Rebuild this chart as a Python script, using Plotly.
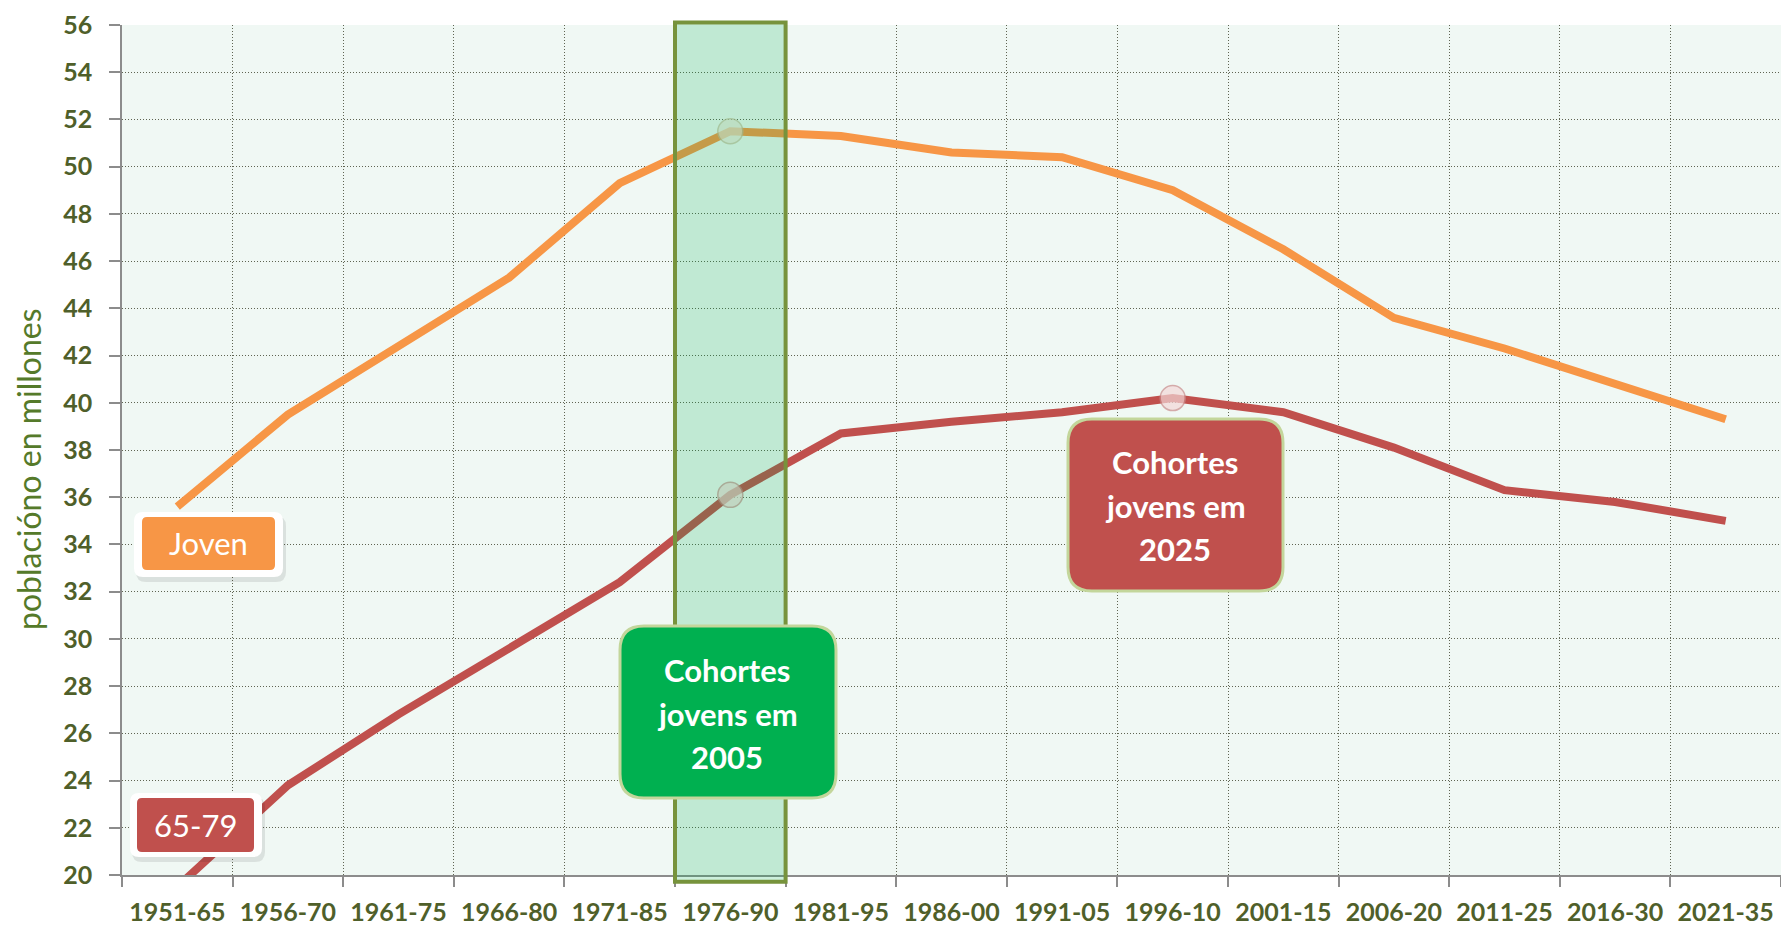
import plotly.graph_objects as go

periodos = ["1951-65", "1956-70", "1961-75", "1966-80", "1971-85", "1976-90", "1981-95",
            "1986-00", "1991-05", "1996-10", "2001-15", "2006-20", "2011-25", "2016-30", "2021-35"]
joven = [35.6, 39.5, 42.4, 45.3, 49.3, 51.5, 51.3, 50.6, 50.4, 49.0, 46.5, 43.6, 42.3, 40.8, 39.3]
mayores = [19.5, 23.8, 26.8, 29.6, 32.4, 36.1, 38.7, 39.2, 39.6, 40.2, 39.6, 38.1, 36.3, 35.8, 35.0]
y_ticks = list(range(20, 57, 2))

W, H = 1781, 926
ML, MR, MT, MB = 122, 0, 25, 51
PW, PH = W - ML - MR, H - MT - MB

ORANGE = "#F79646"
RED = "#C0504D"
GREEN = "#00B050"
OLIVE = "#4F5F2A"
FONT = "Lato"


def px(x, y):
    # pixel position -> paper coords
    return (x - ML) / PW, (H - MB - y) / PH


def rrect(x0, y0, x1, y1, r):
    ax, ay = px(x0, y0)
    bx, by = px(x1, y1)
    rx, ry = r / PW, r / PH
    return (f"M {ax+rx},{ay} L {bx-rx},{ay} Q {bx},{ay} {bx},{ay-ry} "
            f"L {bx},{by+ry} Q {bx},{by} {bx-rx},{by} L {ax+rx},{by} "
            f"Q {ax},{by} {ax},{by+ry} L {ax},{ay-ry} Q {ax},{ay} {ax+rx},{ay} Z")


fig = go.Figure()

fig.add_trace(go.Scatter(
    x=periodos, y=joven, mode="lines+markers", name="Joven",
    line=dict(color=ORANGE, width=8),
    marker=dict(size=[0, 0, 0, 0, 0, 25, 0, 0, 0, 0, 0, 0, 0, 0, 0],
                color="#ece6da", line=dict(color="#c8bc9c", width=1.5)),
    hoverinfo="x+y",
))
fig.add_trace(go.Scatter(
    x=periodos, y=mayores, mode="lines+markers", name="65-79",
    line=dict(color=RED, width=8),
    marker=dict(size=[0, 0, 0, 0, 0, 25, 0, 0, 0, 25, 0, 0, 0, 0, 0],
                color="#f3d8d8", line=dict(color="#c98a8a", width=1.5)),
    hoverinfo="x+y",
))

shapes = []
# highlighted cohort band
shapes.append(dict(type="rect", xref="x", yref="paper", x0=4.5, x1=5.5, y0=-0.008, y1=1.003,
                   fillcolor="rgba(0,176,80,0.2)", line=dict(color="#77933C", width=4)))

# series labels (white frame + shadow)
for (x0, y0, x1, y1), (ix0, iy0, ix1, iy1), col in [
        ((134, 512, 283, 577), (142, 517, 275, 570), ORANGE),
        ((130, 793, 262, 857), (137, 798, 254, 852), RED)]:
    shapes.append(dict(type="path", xref="paper", yref="paper",
                       path=rrect(x0 + 2, y0 + 4, x1 + 3, y1 + 5, 10),
                       fillcolor="rgba(0,0,0,0.09)", line=dict(width=0)))
    shapes.append(dict(type="path", xref="paper", yref="paper", path=rrect(x0, y0, x1, y1, 9),
                       fillcolor="white", line=dict(width=0)))
    shapes.append(dict(type="path", xref="paper", yref="paper", path=rrect(ix0, iy0, ix1, iy1, 5),
                       fillcolor=col, line=dict(width=0)))

# cohort callouts
for box, col in [((620, 626, 836, 798), GREEN), ((1068, 419, 1283, 591), RED)]:
    shapes.append(dict(type="path", xref="paper", yref="paper", path=rrect(*box, 24),
                       fillcolor=col, line=dict(color="#c3d69b", width=3)))

annotations = []


def label(text, x, y, size, bold=False):
    ax, ay = px(x, y)
    annotations.append(dict(text=text, x=ax, y=ay, xref="paper", yref="paper",
                            showarrow=False, xanchor="center", yanchor="middle",
                            font=dict(family=FONT, size=size, color="white",
                                      weight="bold" if bold else "normal")))


label("Joven", 208, 543, 31)
label("65-79", 195, 825, 31)
for txt, yy in zip(["Cohortes", "jovens em", "2005"], [670, 714, 757]):
    label(txt, 727, yy, 31, True)
for txt, yy in zip(["Cohortes", "jovens em", "2025"], [462, 506, 549]):
    label(txt, 1175, yy, 31, True)

ax_t, ay_t = px(28, 469)
annotations.append(dict(text="poblacióno en millones", x=ax_t, y=ay_t, xref="paper", yref="paper",
                        showarrow=False, textangle=-90, xanchor="center", yanchor="middle",
                        font=dict(family=FONT, size=32, color="#557A2A")))

grid = dict(showgrid=True, gridcolor="#5f6452", griddash="1px,2px", gridwidth=1)

fig.update_layout(
    width=W, height=H,
    margin=dict(l=ML, r=MR, t=MT, b=MB),
    paper_bgcolor="white",
    plot_bgcolor="#f0f8f4",
    showlegend=False,
    shapes=shapes,
    annotations=annotations,
    xaxis=dict(
        type="category", range=[-0.5, 14.5], tickson="boundaries", **grid,
        showline=True, linecolor="#8c8c8c", linewidth=1.5,
        ticks="outside", ticklen=10, tickcolor="#8c8c8c", tickwidth=1.5,
        tickfont=dict(family=FONT, size=25, color=OLIVE, weight="bold"),
        ticklabelstandoff=14, fixedrange=True,
    ),
    yaxis=dict(
        range=[20, 56], tickvals=y_ticks, **grid,
        showline=True, linecolor="#8c8c8c", linewidth=1.5,
        ticks="outside", ticklen=11, tickcolor="#8c8c8c", tickwidth=1.5,
        tickfont=dict(family=FONT, size=25, color=OLIVE, weight="bold"),
        ticklabelstandoff=12, zeroline=False, fixedrange=True,
    ),
)

fig.write_html("out.html", config={"displayModeBar": False},
               post_script="document.body.style.margin='0';")
